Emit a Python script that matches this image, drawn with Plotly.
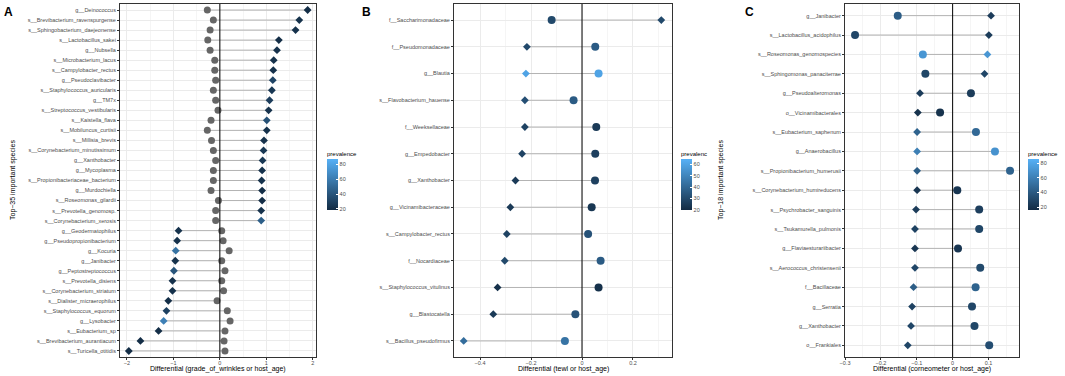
import plotly.graph_objects as go

# ---------------- Panel A data ----------------
a_taxa = ["g__Deinococcus", "s__Brevibacterium_ravenspurgense", "s__Sphingobacterium_daejeonense",
          "s__Lactobacillus_sakei", "g__Nubsella", "s__Microbacterium_lacus", "s__Campylobacter_rectus",
          "g__Pseudoclavibacter", "s__Staphylococcus_auricularis", "g__TM7x", "s__Streptococcus_vestibularis",
          "s__Kaistella_flava", "s__Mobiluncus_curtisii", "s__Millisia_brevis", "s__Corynebacterium_minutissimum",
          "g__Xanthobacter", "g__Mycoplasma", "s__Propionibacteriaceae_bacterium", "g__Murdochiella",
          "s__Roseomonas_gilardii", "s__Prevotella_genomosp.", "s__Corynebacterium_xerosis",
          "g__Geodermatophilus", "g__Pseudopropionibacterium", "g__Kocuria", "g__Janibacter",
          "g__Peptostreptococcus", "s__Prevotella_disiens", "s__Corynebacterium_striatum",
          "s__Dialister_micraerophilus", "s__Staphylococcus_equorum", "g__Lysobacter", "s__Eubacterium_sp",
          "s__Brevibacterium_aurantiacum", "s__Turicella_otitidis"]
a_trait = [1.89, 1.71, 1.63, 1.27, 1.23, 1.16, 1.15, 1.14, 1.12, 1.07, 1.05, 1.01, 1.01, 0.95, 0.94,
           0.92, 0.91, 0.90, 0.91, 0.91, 0.89, 0.89, -0.89, -0.92, -0.95, -0.96, -0.99, -1.02, -1.02,
           -1.11, -1.15, -1.21, -1.32, -1.71, -1.96]
a_age = [-0.27, -0.14, -0.21, -0.26, -0.21, -0.11, -0.11, -0.09, -0.14, -0.09, -0.04, -0.19, -0.27,
         -0.18, -0.14, -0.09, -0.14, -0.14, -0.19, -0.03, -0.09, -0.09, 0.04, 0.07, 0.20, 0.04, 0.11,
         0.04, 0.08, -0.06, 0.16, 0.22, 0.11, 0.09, 0.11]
a_prev = [20, 22, 22, 20, 22, 22, 22, 32, 25, 28, 22, 38, 22, 22, 25, 25, 22, 22, 20, 20, 22, 45,
          22, 22, 55, 22, 40, 22, 22, 20, 30, 62, 20, 20, 20]

# ---------------- Panel B data ----------------
b_taxa = ["f__Saccharimonadaceae", "f__Pseudomonadaceae", "g__Blautia", "s__Flavobacterium_hauense",
          "f__Weeksellaceae", "g__Empedobacter", "g__Xanthobacter", "g__Vicinamibacteraceae",
          "s__Campylobacter_rectus", "f__Nocardiaceae", "s__Staphylococcus_vitulinus", "g__Blastocatella",
          "s__Bacillus_pseudofirmus"]
b_trait = [0.311, -0.216, -0.220, -0.224, -0.224, -0.235, -0.261, -0.281, -0.295, -0.303, -0.331,
           -0.348, -0.464]
b_age = [-0.119, 0.052, 0.065, -0.033, 0.056, 0.052, 0.051, 0.038, 0.024, 0.073, 0.065, -0.026, -0.067]
b_prev_trait = [30, 30, 60, 32, 28, 28, 25, 25, 28, 30, 22, 25, 42]
b_prev_age = [30, 36, 60, 36, 25, 27, 27, 24, 33, 36, 22, 33, 44]

# ---------------- Panel C data ----------------
c_taxa = ["g__Janibacter", "s__Lactobacillus_acidophilus", "s__Roseomonas_genomospecies",
          "s__Sphingomonas_panaciterrae", "g__Pseudoalteromonas", "o__Vicinamibacterales",
          "s__Eubacterium_saphenum", "g__Anaerobacillus", "s__Propionibacterium_humerusii",
          "s__Corynebacterium_humireducens", "s__Psychrobacter_sanguinis", "s__Tsukamurella_pulmonis",
          "g__Flaviaesturariibacter", "s__Aerococcus_christensenii", "f__Bacillaceae", "g__Serratia",
          "g__Xanthobacter", "o__Frankiales"]
c_trait = [0.107, 0.101, 0.097, 0.089, -0.091, -0.097, -0.099, -0.099, -0.099, -0.099, -0.102, -0.105,
           -0.105, -0.105, -0.109, -0.113, -0.116, -0.125]
c_age = [-0.153, -0.272, -0.083, -0.076, 0.051, -0.035, 0.065, 0.118, 0.160, 0.013, 0.074, 0.074,
         0.015, 0.077, 0.064, 0.054, 0.061, 0.102]
c_prev_trait = [25, 25, 72, 30, 25, 20, 45, 60, 42, 22, 25, 28, 22, 30, 42, 28, 30, 30]
c_prev_age = [42, 30, 72, 30, 25, 20, 48, 70, 45, 22, 26, 30, 22, 32, 45, 30, 30, 34]

x_titles = ["Differential (grade_of_wrinkles or host_age)", "Differential (tewl or host_age)",
            "Differential (corneometer or host_age)"]

FONT = "Liberation Sans, Arial, sans-serif"
LOW, HIGH = "#132B43", "#56B1F7"
SCALE = [[0, LOW], [1, HIGH]]
SEG = "#b3b3b3"
W, H = 1065, 376

fig = go.Figure()


def segments(trait, age, taxa, xa, ya):
    xs, ys = [], []
    for t, a, n in zip(trait, age, taxa):
        xs += [t, a, None]
        ys += [n, n, None]
    fig.add_trace(go.Scatter(x=xs, y=ys, mode="lines", line=dict(color=SEG, width=1),
                             xaxis=xa, yaxis=ya, hoverinfo="skip", showlegend=False))


# Panel A
segments(a_trait, a_age, a_taxa, "x", "y")
fig.add_trace(go.Scatter(x=a_age, y=a_taxa, mode="markers", xaxis="x", yaxis="y",
                         marker=dict(symbol="circle", size=7, color="#666666"), showlegend=False))
fig.add_trace(go.Scatter(x=a_trait, y=a_taxa, mode="markers", xaxis="x", yaxis="y",
                         marker=dict(symbol="diamond", size=6, color=a_prev, coloraxis="coloraxis"),
                         showlegend=False))
# Panel B
segments(b_trait, b_age, b_taxa, "x2", "y2")
fig.add_trace(go.Scatter(x=b_age, y=b_taxa, mode="markers", xaxis="x2", yaxis="y2",
                         marker=dict(symbol="circle", size=8, color=b_prev_age, coloraxis="coloraxis2"),
                         showlegend=False))
fig.add_trace(go.Scatter(x=b_trait, y=b_taxa, mode="markers", xaxis="x2", yaxis="y2",
                         marker=dict(symbol="diamond", size=6, color=b_prev_trait, coloraxis="coloraxis2"),
                         showlegend=False))
# Panel C
segments(c_trait, c_age, c_taxa, "x3", "y3")
fig.add_trace(go.Scatter(x=c_age, y=c_taxa, mode="markers", xaxis="x3", yaxis="y3",
                         marker=dict(symbol="circle", size=8, color=c_prev_age, coloraxis="coloraxis3"),
                         showlegend=False))
fig.add_trace(go.Scatter(x=c_trait, y=c_taxa, mode="markers", xaxis="x3", yaxis="y3",
                         marker=dict(symbol="diamond", size=6, color=c_prev_trait, coloraxis="coloraxis3"),
                         showlegend=False))

YDOM = [1 - 357 / H, 1 - 4 / H]


def xax(dom, rng, dtick, minor, anchor):
    return dict(domain=dom, range=rng, dtick=dtick, tick0=0, showgrid=True, gridcolor="#ebebeb",
                gridwidth=1, zeroline=False, showline=True, mirror=True, linecolor="#333333",
                linewidth=1, ticks="outside", ticklen=2, tickcolor="#333333", anchor=anchor,
                automargin=False, ticklabelstandoff=-2,
                tickfont=dict(size=5.5, color="#4d4d4d", family=FONT),
                minor=dict(dtick=minor, tick0=0, showgrid=True, gridcolor="#f5f5f5", ticks=""))


def yax(taxa, anchor):
    n = len(taxa)
    return dict(domain=YDOM, type="category", categoryorder="array", categoryarray=taxa,
                range=[n - 1 + 0.6, -0.6], showgrid=True, gridcolor="#ebebeb", gridwidth=1,
                zeroline=False, showline=True, mirror=True, linecolor="#333333", linewidth=1,
                ticks="outside", ticklen=2, tickcolor="#333333", anchor=anchor, automargin=False,
                tickfont=dict(size=5.5, color="#4d4d4d", family=FONT))


def cbar(x, title, tickvals):
    return dict(colorscale=SCALE,
                colorbar=dict(x=x, xanchor="left", y=1 - 148 / H, yanchor="top", lenmode="pixels",
                              len=62, thickness=11, thicknessmode="pixels", outlinewidth=0,
                              xpad=0, ypad=0, tickvals=tickvals, ticks="inside", tickcolor="white",
                              ticklen=2, tickfont=dict(size=5.5, color="#4d4d4d", family=FONT),
                              title=dict(text=title, side="top",
                                         font=dict(size=6, color="black", family=FONT))))


fig.update_layout(
    width=W, height=H, margin=dict(l=0, r=0, t=0, b=0, autoexpand=False),
    paper_bgcolor="white", plot_bgcolor="white", font=dict(family=FONT),
    xaxis=xax([120 / W, 316 / W], [-2.15, 2.07], 1, 0.5, "y"),
    yaxis=yax(a_taxa, "x"),
    xaxis2=xax([454 / W, 672 / W], [-0.502, 0.353], 0.2, 0.1, "y2"),
    yaxis2=yax(b_taxa, "x2"),
    xaxis3=xax([845 / W, 1019 / W], [-0.30, 0.185], 0.1, 0.05, "y3"),
    yaxis3=yax(c_taxa, "x3"),
    coloraxis=dict(cmin=18.6, cmax=86.8, **cbar(327 / W, "prevalence", [20, 40, 60, 80])),
    coloraxis2=dict(cmin=20, cmax=64.5, **cbar(681 / W, "prevalenc", [20, 30, 40, 50, 60])),
    coloraxis3=dict(cmin=16, cmax=86, **cbar(1028 / W, "prevalence", [20, 40, 60, 80])),
)

for xr in ["x", "x2", "x3"]:
    yr = "y" + xr[1:]
    fig.add_shape(type="line", xref=xr, yref=yr + " domain", x0=0, x1=0, y0=0, y1=1,
                  line=dict(color="black", width=1))

# panel letters
for txt, xp in [("<b>A</b>", 2), ("<b>B</b>", 360), ("<b>C</b>", 743)]:
    fig.add_annotation(xref="paper", yref="paper", x=xp / W, y=1 - 3 / H, text=txt, xanchor="left",
                       yanchor="top", showarrow=False, font=dict(size=12, color="black", family=FONT))
# axis titles
for txt, xr in zip(x_titles, ["x", "x2", "x3"]):
    fig.add_annotation(xref=xr + " domain", yref="paper", x=0.5, y=1 - 369 / H, text=txt,
                       xanchor="center", yanchor="middle", showarrow=False,
                       font=dict(size=7, color="black", family=FONT))
for txt, xp in [("Top\u221235 important species", 13), ("Top\u221218 important species", 721)]:
    fig.add_annotation(xref="paper", yref="paper", x=xp / W, y=1 - 180 / H, text=txt,
                       textangle=-90, showarrow=False, xanchor="center", yanchor="middle",
                       font=dict(size=7, color="black", family=FONT))

fig.write_html("out.html", config={"displayModeBar": False},
               post_script="document.body.style.margin='0';")
